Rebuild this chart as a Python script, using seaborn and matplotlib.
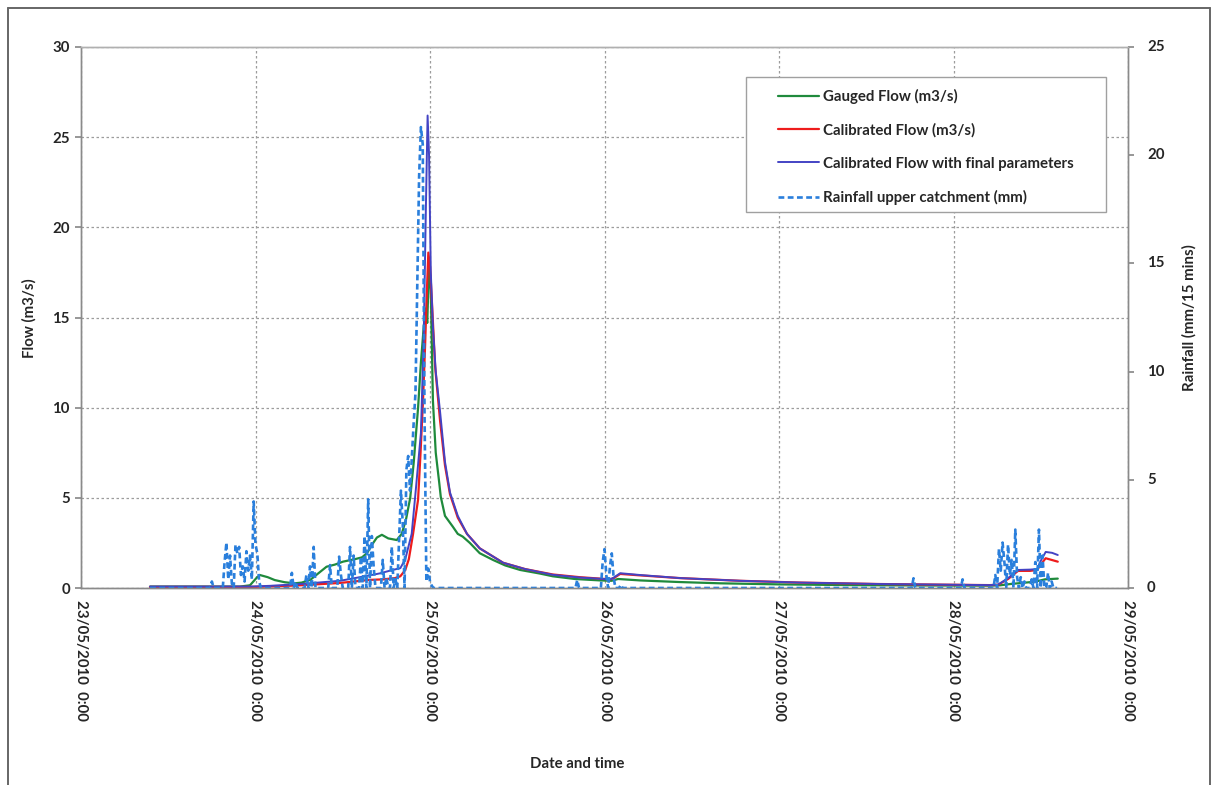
import numpy as np
import pandas as pd
import matplotlib
matplotlib.use("Agg")
import matplotlib.pyplot as plt
import matplotlib.transforms as mtransforms
from matplotlib.lines import Line2D
from matplotlib.patches import Rectangle
import seaborn as sns

# ---- data -------------------------------------------------------------
START = pd.Timestamp("2010-05-23 00:00")

# Gauged flow (m3/s): hours after 23/05/2010 0:00, values
gauged_hours = [9.49, 21.87, 23.24, 24.12, 24.60, 25.68, 26.65, 28.02, 29.38, 30.36,
                31.53, 32.60, 33.77, 34.94, 36.02, 37.68, 38.65, 39.33, 40.02, 40.70,
                41.38, 42.26, 43.43, 44.11, 44.70, 45.28, 45.77, 46.36, 46.75, 47.14,
                47.43, 47.62, 47.72, 47.92, 48.11, 48.40, 48.79, 49.28, 49.48, 50.06,
                51.14, 51.82, 52.50, 53.48, 54.84, 56.70, 58.35, 60.40, 63.13, 64.89,
                67.91, 71.42, 72.98, 73.86, 76.89, 82.35, 87.91, 96.10, 105.76, 115.41,
                124.97, 126.44, 127.80, 128.87, 131.22, 132.58, 134.34]
gauged_flow = [0.08, 0.08, 0.15, 0.55, 0.72, 0.60, 0.44, 0.32, 0.26, 0.30,
               0.45, 0.80, 1.18, 1.30, 1.46, 1.60, 1.70, 1.93, 2.40, 2.80,
               2.95, 2.75, 2.66, 3.00, 3.80, 5.00, 7.00, 10.0, 12.5, 14.5,
               15.5, 14.7, 16.0, 18.0, 16.5, 10.4, 7.5, 5.8, 5.06, 4.0,
               3.4, 3.0, 2.85, 2.5, 1.93, 1.55, 1.25, 1.00, 0.80, 0.65,
               0.50, 0.42, 0.40, 0.50, 0.42, 0.33, 0.26, 0.20, 0.16, 0.14,
               0.13, 0.15, 0.22, 0.26, 0.35, 0.48, 0.52]

# Calibrated flow (m3/s)
calib_hours = [9.49, 23.24, 25.97, 30.16, 35.63, 39.72, 41.58, 43.19, 43.92, 44.60,
               45.09, 45.67, 46.36, 46.70, 47.04, 47.33, 47.53, 47.77, 48.01, 48.31,
               48.70, 49.38, 50.06, 50.75, 51.82, 53.09, 54.84, 58.06, 61.08, 64.89,
               68.59, 72.79, 73.28, 74.16, 76.89, 82.35, 90.64, 98.93, 109.85, 124.97,
               126.14, 127.51, 128.87, 130.53, 131.51, 131.99, 132.68, 133.56, 134.34]
calib_flow = [0.06, 0.06, 0.08, 0.15, 0.28, 0.45, 0.48, 0.55, 0.65, 1.0,
              1.6, 3.0, 4.9, 7.5, 10.4, 13.5, 16.0, 18.6, 17.8, 15.5,
              12.3, 9.3, 6.8, 5.2, 3.9, 3.0, 2.2, 1.4, 1.05, 0.75,
              0.60, 0.48, 0.55, 0.78, 0.70, 0.55, 0.40, 0.30, 0.22, 0.16,
              0.18, 0.50, 0.95, 0.95, 1.00, 1.30, 1.65, 1.55, 1.46]

# Calibrated flow with final parameters (m3/s)
final_hours = [9.49, 23.24, 25.97, 30.16, 35.63, 39.72, 41.09, 42.85, 43.92, 44.60,
               45.48, 46.06, 46.75, 47.14, 47.43, 47.67, 47.87, 48.11, 48.40, 48.79,
               49.38, 50.06, 50.75, 51.82, 53.09, 54.84, 58.06, 61.08, 64.89, 68.59,
               72.79, 73.28, 74.16, 76.89, 82.35, 90.64, 98.93, 109.85, 124.97, 126.14,
               127.51, 128.87, 130.53, 131.51, 131.99, 132.68, 133.56, 134.34]
final_flow = [0.08, 0.08, 0.12, 0.22, 0.40, 0.70, 0.81, 1.0, 1.1, 1.6,
              3.0, 5.5, 8.6, 14.0, 21.0, 26.2, 24.0, 17.5, 14.5, 12.0,
              9.8, 7.0, 5.3, 4.0, 3.0, 2.2, 1.4, 1.05, 0.73, 0.58,
              0.48, 0.58, 0.82, 0.72, 0.55, 0.40, 0.30, 0.22, 0.16, 0.19,
              0.55, 1.0, 1.02, 1.05, 1.5, 2.0, 1.95, 1.83]

# Rainfall upper catchment (mm per 15 min): recorded non-zero intervals
rain_hours = [18.0, 19.75, 20.0, 20.25, 20.5, 20.75, 21.25, 21.5, 21.75, 22.0,
              22.25, 22.5, 22.75, 23.0, 23.25, 23.5, 23.75, 24.0, 24.25, 24.5,
              29.0, 29.5, 31.0, 31.5, 32.0, 34.25, 35.5, 35.75, 37.0, 37.5,
              38.5, 39.0, 39.5, 40.0, 40.25, 41.5, 42.0, 42.75, 43.25, 43.75,
              44.0, 44.25, 44.75, 45.0, 45.25, 45.5, 45.75, 46.0, 46.25, 46.5,
              46.75, 47.0, 47.25, 47.5, 47.75, 48.0, 48.25,
              68.25, 71.75, 72.0, 72.25, 72.75, 73.0, 73.25, 74.25,
              114.5, 121.25, 125.75, 126.25, 126.5, 126.75, 127.0, 127.5, 127.75,
              128.0, 128.5, 128.75, 129.25, 129.75, 130.75, 131.25, 131.75, 132.25,
              133.0, 133.5]
rain_mm = [0.3, 1.2, 2.1, 0.4, 1.5, 0.2, 2.0, 1.6, 1.9, 0.6,
           1.0, 0.3, 1.7, 0.8, 1.5, 0.4, 4.0, 2.0, 1.6, 0.3,
           0.7, 0.3, 0.6, 1.0, 1.9, 1.06, 1.45, 0.6, 1.9, 1.5,
           1.45, 2.4, 4.1, 2.4, 1.0, 1.3, 0.5, 1.9, 0.4, 2.2,
           4.5, 3.0, 5.45, 6.1, 4.5, 6.0, 7.6, 9.0, 14.0, 19.0,
           21.3, 20.5, 8.0, 0.3, 0.9, 0.3, 0.1,
           0.37, 1.2, 1.8, 0.6, 1.0, 1.6, 0.5, 0.15,
           0.45, 0.4, 0.6, 1.8, 0.8, 2.1, 1.2, 2.0, 0.6,
           1.3, 2.7, 0.5, 0.5, 0.3, 0.4, 1.2, 2.7, 1.5,
           0.7, 0.3]
rain_start_hour, rain_end_hour = 9.5, 134.25

day_ticks = ["2010-05-23", "2010-05-24", "2010-05-25", "2010-05-26",
             "2010-05-27", "2010-05-28", "2010-05-29"]
day_labels = ["23/05/2010  0:00", "24/05/2010  0:00", "25/05/2010  0:00",
              "26/05/2010  0:00", "27/05/2010  0:00", "28/05/2010  0:00",
              "29/05/2010  0:00"]
flow_ticks = [0, 5, 10, 15, 20, 25, 30]
rain_ticks = [0, 5, 10, 15, 20, 25]

series_names = ["Gauged Flow (m3/s)", "Calibrated Flow (m3/s)",
                "Calibrated Flow with final parameters",
                "Rainfall upper catchment (mm)"]


def to_time(hours):
    return START + pd.to_timedelta(np.asarray(hours, dtype=float), unit="h")


# full 15-minute rainfall record (zero where nothing was recorded)
rain_grid = np.round(np.arange(rain_start_hour, rain_end_hour + 0.001, 0.25), 2)
rain_series = pd.Series(0.0, index=rain_grid)
rain_series.loc[np.round(rain_hours, 2)] = rain_mm
rain_df = pd.DataFrame({"time": to_time(rain_series.index.values),
                        "rain": rain_series.values})

gauged_df = pd.DataFrame({"time": to_time(gauged_hours), "flow": gauged_flow})
calib_df = pd.DataFrame({"time": to_time(calib_hours), "flow": calib_flow})
final_df = pd.DataFrame({"time": to_time(final_hours), "flow": final_flow})

# ---- styling ---------------------------------------------------------------
sns.set_theme(style="white")
plt.rcParams["font.family"] = ["Lato", "DejaVu Sans"]
plt.rcParams["font.weight"] = "bold"

GREEN = "#1f8a3c"
RED = "#ee1c1c"
BLUE = "#4343c4"
RAIN = "#2a7fdc"
GRID = "#9c9c9c"
AXIS = "#8a8a8a"
FS = 10.8

W, H = 1212, 785
AX_L, AX_R, AX_T, AX_B = 81, 1128, 47, 588
fig = plt.figure(figsize=(W / 100, H / 100), dpi=100)
fig.patch.set_facecolor("white")
ax = fig.add_axes([AX_L / W, 1 - AX_B / H, (AX_R - AX_L) / W, (AX_B - AX_T) / H])
ax2 = ax.twinx()

sns.lineplot(data=gauged_df, x="time", y="flow", ax=ax, color=GREEN, lw=1.6,
             legend=False)
sns.lineplot(data=calib_df, x="time", y="flow", ax=ax, color=RED, lw=1.6,
             legend=False)
sns.lineplot(data=final_df, x="time", y="flow", ax=ax, color=BLUE, lw=1.4,
             legend=False)
sns.lineplot(data=rain_df, x="time", y="rain", ax=ax2, color=RAIN, lw=1.9,
             legend=False)
for ln in ax2.get_lines():
    ln.set_dashes((2.2, 1.3))

# axes ranges and ticks
xticks = pd.to_datetime(day_ticks)
ax.set_xlim(xticks[0], xticks[-1])
ax.set_ylim(0, 30)
ax2.set_ylim(0, 25)
ax.set_xticks(xticks)
ax.set_xticklabels(day_labels, rotation=270, ha="center", va="top",
                   fontsize=FS, fontweight="bold")
ax.set_yticks(flow_ticks)
ax.set_yticklabels([str(v) for v in flow_ticks], fontsize=FS, fontweight="bold")
ax2.set_yticks(rain_ticks)

ax.grid(True, axis="both", color=GRID, linestyle=(0, (2, 2)), linewidth=0.9)
ax2.grid(False)
ax.set_axisbelow(True)

for a in (ax, ax2):
    for sp in a.spines.values():
        sp.set_color(AXIS)
        sp.set_linewidth(1.0)
    a.spines["top"].set_color("#b0b0b0")
ax.tick_params(axis="x", length=4, color=AXIS, pad=5)
ax.tick_params(axis="y", length=4, color=AXIS, pad=4, direction="out",
               left=True, right=False, labelright=False)
ax2.tick_params(axis="y", length=4, color=AXIS, direction="out", right=True,
                left=False, labelleft=False, labelright=False)

# rainfall axis tick labels, set a little away from the right axis
right_labels = mtransforms.blended_transform_factory(ax2.transAxes, ax2.transData) \
    + mtransforms.ScaledTranslation(19 / 100, 0, fig.dpi_scale_trans)
for v in rain_ticks:
    ax2.text(1.0, v, str(v), transform=right_labels, ha="left", va="center",
             fontsize=FS, fontweight="bold", color="#262626", clip_on=False)

ax.set_xlabel("Date and time", fontsize=FS, fontweight="bold")
ax.xaxis.set_label_coords((577 - AX_L) / (AX_R - AX_L), -(757 - AX_B) / (AX_B - AX_T))
ax.set_ylabel("Flow (m3/s)", fontsize=FS, fontweight="bold")
ax.yaxis.set_label_coords(-(AX_L - 37) / (AX_R - AX_L), (AX_B - 318) / (AX_B - AX_T))
ax2.set_ylabel("Rainfall (mm/15 mins)", fontsize=FS, fontweight="bold",
               rotation=90)
ax2.yaxis.set_label_coords(1 + (1182 - AX_R) / (AX_R - AX_L),
                           (AX_B - 318) / (AX_B - AX_T))

# legend: plain entries inside a separately drawn box
handles = [Line2D([], [], color=GREEN, lw=1.6),
           Line2D([], [], color=RED, lw=1.6),
           Line2D([], [], color=BLUE, lw=1.4),
           Line2D([], [], color=RAIN, lw=1.9, dashes=(2.2, 1.3))]
fig.add_artist(Rectangle((746 / W, 1 - 212 / H), (1106 - 746) / W, (212 - 77) / H,
                         transform=fig.transFigure, facecolor="white",
                         edgecolor="#a0a0a0", lw=1.0, zorder=2))
leg = fig.legend(handles, series_names, loc="upper left",
                 bbox_to_anchor=(778 / W, 1 - 89 / H),
                 borderaxespad=0, borderpad=0, frameon=False,
                 handlelength=2.75, handletextpad=0.25, labelspacing=1.27,
                 prop={"weight": "bold", "size": FS})
leg.set_zorder(3)

# chart border
for xs, ys in [((8 / W, 1210 / W), (1 - 8 / H, 1 - 8 / H)),
               ((8 / W, 8 / W), (1 - 8 / H, 0)),
               ((1210 / W, 1210 / W), (1 - 8 / H, 0))]:
    fig.add_artist(Line2D(xs, ys, color="#666666", lw=1.4,
                          transform=fig.transFigure))

fig.savefig("out.png", dpi=100, facecolor="white")
